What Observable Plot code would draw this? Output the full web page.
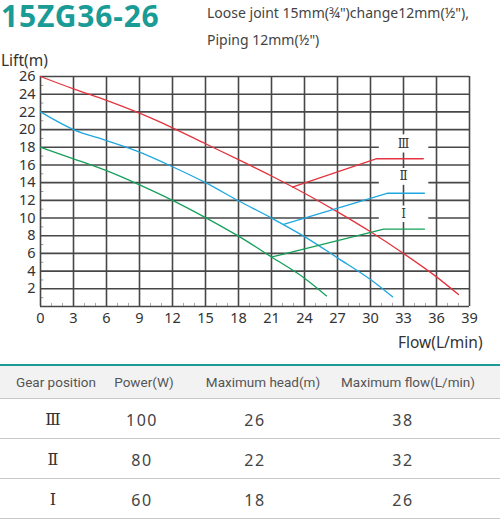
<!DOCTYPE html>
<html lang="en">
<head>
<meta charset="UTF-8">
<title>15ZG36-26</title>
<style>
  body { margin: 0; background: #fff; font-family: "Noto Sans", sans-serif; color: #333; }
  #page { position: relative; width: 500px; height: 520px; overflow: hidden; }
  #chart { position: absolute; left: 0; top: 0; }
  .abs { position: absolute; white-space: nowrap; }
  .title { left: 1px; top: 1px; line-height: 30px; font-weight: bold; font-size: 30px; color: #1a9b96; letter-spacing: 0.8px; }
  .sub { left: 207px; font-size: 14px; line-height: 16px; color: #444; }
  .axis-label { font-size: 15.5px; line-height: 16px; color: #333; }
  .tline { position: absolute; left: 0; width: 500px; height: 1px; background: #c8c8c8; }
  .head-bg { position: absolute; left: 0; top: 366px; width: 500px; height: 32px; background: #f2f2f2; }
  .cell { position: absolute; transform: translate(-50%, -50%); white-space: nowrap; line-height: 18px; }
  .hcell { font-family: Roboto, sans-serif; font-size: 13.5px; color: #555; }
  .vcell { font-size: 16px; color: #444; letter-spacing: 1.5px; }
  .gear { font-family: "DejaVu Serif", serif; font-size: 16px; color: #333; letter-spacing: 0; }
</style>
</head>
<body>
<div id="page">
  <div id="chart"></div>
  <div class="abs title">15ZG36-26</div>
  <div class="abs sub" style="top:5px">Loose joint 15mm(¾")change12mm(½"),</div>
  <div class="abs sub" style="top:32px">Piping 12mm(½")</div>
  <div class="abs axis-label" style="left:1px; top:52px">Lift(m)</div>
  <div class="abs axis-label" style="left:398px; top:334px">Flow(L/min)</div>
  <div id="table"></div>
</div>

<script src="https://cdn.jsdelivr.net/npm/d3@7"></script>
<script src="https://cdn.jsdelivr.net/npm/@observablehq/plot@0.6"></script>
<script>
// pump curves
const flowIII = [0, 3, 6, 9, 12, 15, 18, 21, 24, 27, 30, 33, 36, 38];
const headIII = [26, 24.6, 23.3, 21.85, 20.2, 18.4, 16.6, 14.75, 12.8, 10.7, 8.45, 6.0, 3.35, 1.35];
const flowII = [0, 3, 6, 9, 12, 15, 18, 21, 24, 27, 30, 32];
const headII = [22, 20.0, 18.75, 17.45, 15.8, 14.0, 11.95, 10.0, 7.9, 5.5, 3.05, 1.1];
const flowI = [0, 3, 6, 9, 12, 15, 18, 21, 24, 26];
const headI = [18, 16.7, 15.35, 13.75, 12.0, 10.05, 7.95, 5.6, 3.2, 1.2];

// leader lines from each curve to its gear label
const leaderFlowIII = [22.9, 30.5, 34.8];
const leaderHeadIII = [13.5, 16.7, 16.7];
const leaderFlowII = [22.1, 31.5, 34.9];
const leaderHeadII = [9.27, 12.8, 12.8];
const leaderFlowI = [21.06, 31.2, 34.9];
const leaderHeadI = [5.6, 8.74, 8.74];

const gears = ["Ⅲ", "Ⅱ", "Ⅰ"];
const gearColors = ["#e3343f", "#1ea7df", "#14a05a"];
const gearLabelFlow = [33, 33, 33];
const gearLabelHead = [18.4, 14.7, 10.4];
// white patches behind the labels (flow from/to, head from/to)
const boxFlow = [[30.8, 35.3], [30.8, 35.3], [30.8, 35.3]];
const boxHead = [[17.35, 19.4], [13.7, 15.6], [9.5, 11.35]];

const xTicks = d3.range(0, 40, 3);
const yTicks = d3.range(2, 27, 2);
const yGrid = d3.range(0, 27, 2);
const xMinor = d3.range(1, 39).filter(d => d % 3 !== 0);
const yMinor = d3.range(1, 26, 2);

// table
const powers = [100, 80, 60];
const maxHeads = [26, 22, 18];
const maxFlows = [38, 32, 26];
const headers = ["Gear position", "Power(W)", "Maximum head(m)", "Maximum flow(L/min)"];

function rows(gear, fl, hd) {
  return fl.map((f, i) => ({gear, flow: f, head: hd[i]}));
}

const curves = [
  ...rows("Ⅲ", flowIII, headIII),
  ...rows("Ⅱ", flowII, headII),
  ...rows("Ⅰ", flowI, headI)
];
const leaders = [
  ...rows("Ⅲ", leaderFlowIII, leaderHeadIII),
  ...rows("Ⅱ", leaderFlowII, leaderHeadII),
  ...rows("Ⅰ", leaderFlowI, leaderHeadI)
];
const labels = gears.map((g, i) => ({gear: g, flow: gearLabelFlow[i], head: gearLabelHead[i]}));
const boxes = gears.map((g, i) => ({
  x1: boxFlow[i][0], x2: boxFlow[i][1], y1: boxHead[i][0], y2: boxHead[i][1]
}));

const grid = "#474747";

const plot = Plot.plot({
  width: 500,
  height: 355,
  marginLeft: 40,
  marginRight: 31,
  marginTop: 76,
  marginBottom: 49,
  x: {domain: [0, 39]},
  y: {domain: [0, 26]},
  color: {domain: gears, range: gearColors},
  style: {fontFamily: "Noto Sans, sans-serif", fontSize: "14.5px", color: "#333", background: "transparent"},
  marks: [
    Plot.ruleX(xMinor, {y1: 0, y2: 0.35, stroke: "#aaa", strokeWidth: 1}),
    Plot.ruleY(yMinor, {x1: 0, x2: 0.3, stroke: "#999", strokeWidth: 1}),
    Plot.ruleX(xTicks, {stroke: grid, strokeWidth: 1.6}),
    Plot.ruleY(yGrid, {stroke: grid, strokeWidth: 1.6}),
    Plot.rect(boxes, {x1: "x1", x2: "x2", y1: "y1", y2: "y2", fill: "white"}),
    Plot.line(curves, {x: "flow", y: "head", z: "gear", stroke: "gear", strokeWidth: 1.3, curve: "monotone-x"}),
    Plot.line(leaders, {x: "flow", y: "head", z: "gear", stroke: "gear", strokeWidth: 1.3}),
    Plot.text(labels, {x: "flow", y: "head", text: "gear", fontSize: 12, fontFamily: "DejaVu Serif, serif", fill: "#333"}),
    Plot.axisY(yTicks, {tickSize: 0, tickPadding: 5, label: null}),
    Plot.axisX(xTicks, {tickSize: 0, tickPadding: 6, label: null})
  ]
});
document.querySelector("#chart").append(plot);

// the spec table under the chart
const colX = [56, 144, 263, 408];
const valX = [53, 142, 255, 403];
const rowY = [420, 460, 500];
const lineY = [398, 438, 478, 518];
const table = document.querySelector("#table");
let html = '<div class="head-bg"></div>';
html += '<div class="tline" style="top:364px;height:2px;background:#1a9b96"></div>';
lineY.forEach(y => { html += `<div class="tline" style="top:${y}px"></div>`; });
headers.forEach((h, i) => {
  html += `<div class="cell hcell" style="left:${colX[i]}px;top:382px">${h}</div>`;
});
gears.forEach((g, r) => {
  const vals = [g, powers[r], maxHeads[r], maxFlows[r]];
  vals.forEach((v, i) => {
    html += `<div class="cell vcell${i === 0 ? " gear" : ""}" style="left:${valX[i]}px;top:${rowY[r]}px">${v}</div>`;
  });
});
table.innerHTML = html;
</script>
</body>
</html>
